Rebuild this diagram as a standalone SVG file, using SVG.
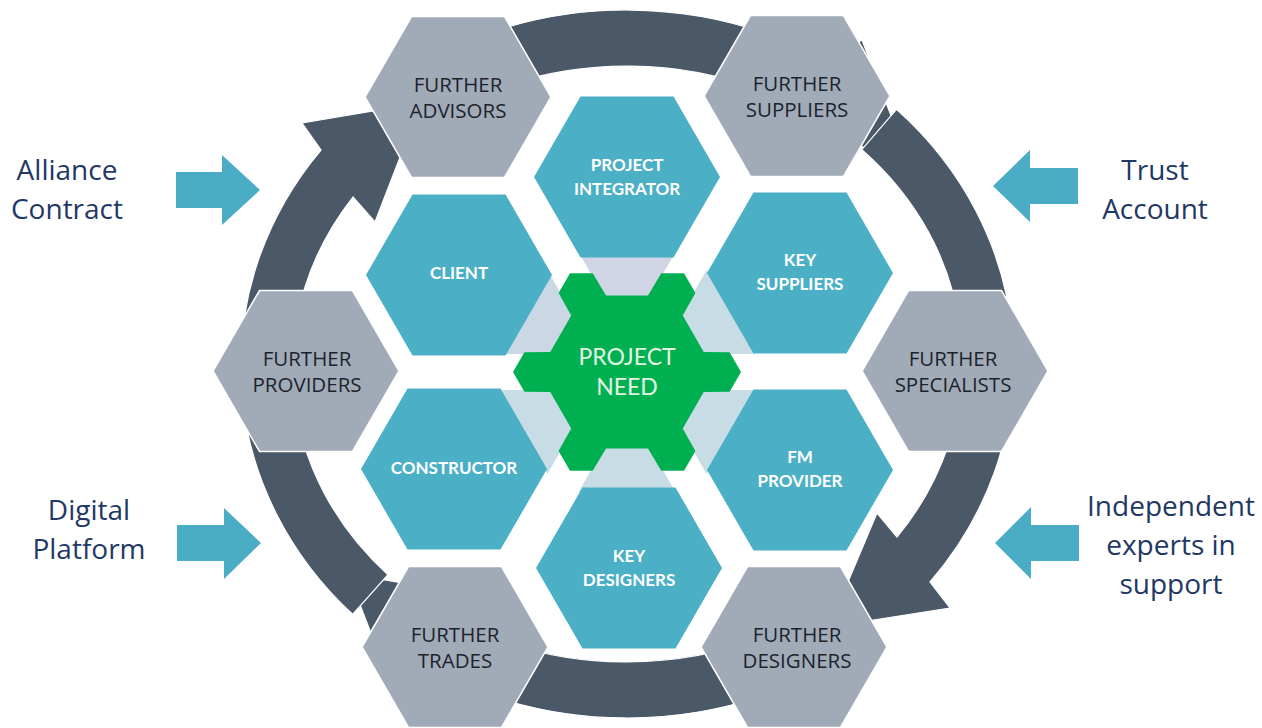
<svg xmlns="http://www.w3.org/2000/svg" xmlns:xlink="http://www.w3.org/1999/xlink" width="1262" height="728" viewBox="0 0 1262 728">
<style>
.gray{fill:#a1abb8;stroke:#fff;stroke-width:1.5}
.teal{fill:#4bafc6}
.ring{fill:#4b5867;stroke:#fff;stroke-width:1.2;stroke-linejoin:miter}
.side{fill:#4bacc6}
.tg{font-family:"Open Sans","Liberation Sans",sans-serif;font-size:20.5px;fill:#1c232c;text-anchor:middle}
.tt{font-family:Lato,"Liberation Sans",sans-serif;font-weight:700;font-size:17px;fill:#ffffff;text-anchor:middle}
.tn{font-family:Lato,"Liberation Sans",sans-serif;font-size:23px;fill:#e2f5e2;text-anchor:middle}
.ts{font-family:"Open Sans","Liberation Sans",sans-serif;font-size:28px;fill:#1f3864;text-anchor:middle}
.pl{fill:#cfd5e5}
.pb{fill:#c7dce5}
.pu{fill:#cad7e4}
</style>
<defs>
<polygon id="hex" points="-93,0 -46.5,-80.5 46.5,-80.5 93,0 46.5,80.5 -46.5,80.5"/>
<polygon id="tri" points="-48.5,-120 48.5,-120 0,-36"/>
<polygon id="notch" points="-35,-100 35,-100 21,-76.5 -21,-76.5"/>
</defs>

<g id="project-need" transform="translate(627,372)">
  <use href="#tri" class="pl"/>
  <use href="#tri" class="pb" transform="rotate(60)"/>
  <use href="#tri" class="pb" transform="rotate(120)"/>
  <use href="#tri" class="pb" transform="rotate(180)"/>
  <use href="#tri" class="pb" transform="rotate(240)"/>
  <use href="#tri" class="pu" transform="rotate(300)"/>
  <polygon points="114,0 57,98.7 -57,98.7 -114,0 -57,-98.7 57,-98.7" fill="#00b050"/>
  <use href="#notch" class="pl"/>
  <use href="#notch" class="pb" transform="rotate(60)"/>
  <use href="#notch" class="pb" transform="rotate(120)"/>
  <use href="#notch" class="pb" transform="rotate(180)"/>
  <use href="#notch" class="pb" transform="rotate(240)"/>
  <use href="#notch" class="pu" transform="rotate(300)"/>
  <text class="tn" x="0" y="-7.5">PROJECT</text>
  <text class="tn" x="0" y="22.5">NEED</text>
</g>

<g id="project-integrator" transform="translate(627,177)">
  <use href="#hex" class="teal"/>
  <text class="tt" x="0" y="-6">PROJECT</text>
  <text class="tt" x="0" y="18">INTEGRATOR</text>
</g>
<g id="key-suppliers" transform="translate(800,273)">
  <use href="#hex" class="teal"/>
  <text class="tt" x="0" y="-7">KEY</text>
  <text class="tt" x="0" y="17">SUPPLIERS</text>
</g>
<g id="fm-provider" transform="translate(800,470)">
  <use href="#hex" class="teal"/>
  <text class="tt" x="0" y="-7">FM</text>
  <text class="tt" x="0" y="17">PROVIDER</text>
</g>
<g id="key-designers" transform="translate(629,568)">
  <use href="#hex" class="teal"/>
  <text class="tt" x="0" y="-6">KEY</text>
  <text class="tt" x="0" y="18">DESIGNERS</text>
</g>
<g id="constructor" transform="translate(454,469)">
  <use href="#hex" class="teal"/>
  <text class="tt" x="0" y="5">CONSTRUCTOR</text>
</g>
<g id="client" transform="translate(459,275)">
  <use href="#hex" class="teal"/>
  <text class="tt" x="0" y="4">CLIENT</text>
</g>

<g id="connectors">
  <path class="ring" d="M433,57.4 A388 354 0 0 1 826.8,60.6 L862,40 L906,154.5 L778,132 L801.1,108.6 A338 298 0 0 0 458,106 Z"/>
  <path class="ring" d="M821,670.6 A388 354 0 0 1 427.2,667.4 L392,688 L348,573.5 L476,596 L452.9,619.4 A338 298 0 0 0 796,622 Z"/>
  <path class="ring" d="M352.6,614.3 A388 354 0 0 1 321,150 L302,123 L421,103 L375,222 L353,197 A338 298 0 0 0 388,574.7 Z"/>
  <path class="ring" d="M896.5,109.4 A388 354 0 0 1 930,582 L950,608 L829,627 L877,513 L897,537 A338 298 0 0 0 861.8,149.6 Z"/>
  <polygon class="side" points="176,172 222,172 222,155 260,190 222,225 222,208 176,208"/>
  <polygon class="side" points="177,525 224,525 224,508 261,543 224,579 224,561 177,561"/>
  <polygon class="side" points="1078,168 1030,168 1030,150 993,186 1030,222 1030,204 1078,204"/>
  <polygon class="side" points="1079,525 1031,525 1031,507 995,543 1031,579 1031,561 1079,561"/>
</g>

<g id="further-advisors" transform="translate(458,97)">
  <use href="#hex" class="gray"/>
  <text class="tg" x="0" y="-5.5">FURTHER</text>
  <text class="tg" x="0" y="20.5">ADVISORS</text>
</g>
<g id="further-suppliers" transform="translate(797,96)">
  <use href="#hex" class="gray"/>
  <text class="tg" x="0" y="-5.5">FURTHER</text>
  <text class="tg" x="0" y="20.5">SUPPLIERS</text>
</g>
<g id="further-providers" transform="translate(306,371)">
  <use href="#hex" class="gray"/>
  <text class="tg" x="1" y="-5.5">FURTHER</text>
  <text class="tg" x="1" y="20.5">PROVIDERS</text>
</g>
<g id="further-specialists" transform="translate(955,371)">
  <use href="#hex" class="gray"/>
  <text class="tg" x="-2" y="-5.5">FURTHER</text>
  <text class="tg" x="-2" y="20.5">SPECIALISTS</text>
</g>
<g id="further-trades" transform="translate(455,647)">
  <use href="#hex" class="gray"/>
  <text class="tg" x="0" y="-5.5">FURTHER</text>
  <text class="tg" x="0" y="20.5">TRADES</text>
</g>
<g id="further-designers" transform="translate(794,647)">
  <use href="#hex" class="gray"/>
  <text class="tg" x="3" y="-5.5">FURTHER</text>
  <text class="tg" x="3" y="20.5">DESIGNERS</text>
</g>

<g id="alliance-contract">
  <text class="ts" x="67" y="180">Alliance</text>
  <text class="ts" x="67" y="219">Contract</text>
</g>
<g id="digital-platform">
  <text class="ts" x="89" y="520">Digital</text>
  <text class="ts" x="89" y="559">Platform</text>
</g>
<g id="trust-account">
  <text class="ts" x="1155" y="180">Trust</text>
  <text class="ts" x="1155" y="219">Account</text>
</g>
<g id="independent-experts">
  <text class="ts" x="1171" y="516">Independent</text>
  <text class="ts" x="1171" y="555">experts in</text>
  <text class="ts" x="1171" y="594">support</text>
</g>
</svg>
